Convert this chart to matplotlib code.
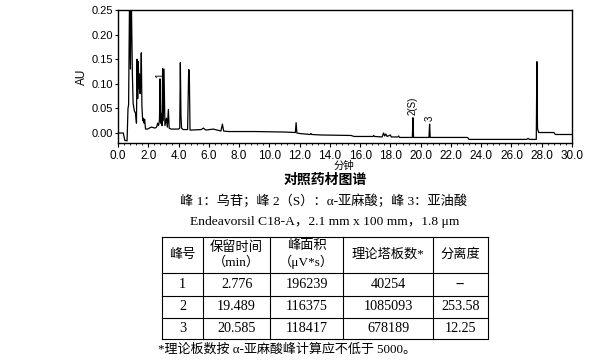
import matplotlib
matplotlib.use("Agg")
import matplotlib.pyplot as plt
from matplotlib.ticker import MultipleLocator, FormatStrFormatter

# chromatogram vertices (min, AU)
rt = [0.0, 0.35, 0.45, 0.6, 0.66, 0.70, 0.77, 0.82, 0.87, 0.95, 1.0, 1.08, 1.16, 1.22,
      1.26, 1.30, 1.34, 1.38, 1.42, 1.46, 1.50, 1.54, 1.58, 1.63, 1.68, 1.72, 1.76, 1.82,
      1.95, 2.2, 2.45, 2.55, 2.62, 2.68, 2.74, 2.776, 2.82, 2.86, 2.91, 2.95, 2.99, 3.04,
      3.10, 3.2, 3.26, 3.33, 3.38, 3.5, 4.0, 4.08, 4.12, 4.16, 4.2, 4.3, 4.6, 4.67, 4.71,
      4.76, 4.85, 5.5, 5.64, 5.8, 6.3, 6.8, 6.9, 6.98, 7.3, 9.0, 11.0, 11.72, 11.77, 11.82,
      12.0, 12.7, 12.75, 12.8, 13.4, 15.4, 15.6, 16.85, 16.9, 16.95, 17.45, 17.55, 17.62,
      17.7, 17.78, 18.0, 18.05, 18.5, 18.55, 18.6, 19.45, 19.49, 19.53, 20.55, 20.59, 20.63,
      23.1, 23.2, 27.0, 27.1, 27.2, 27.64, 27.68, 27.72, 27.8, 28.8, 28.9, 30.0]
au = [0.000, 0.000, -0.015, -0.016, 0.050, 0.057, 0.300, 0.130, 0.300, 0.120, 0.060, 0.045,
      0.040, 0.020, 0.150, 0.070, 0.145, 0.090, 0.120, 0.080, 0.100, 0.163, 0.055, 0.025,
      0.030, 0.020, 0.028, 0.008, 0.008, 0.012, 0.010, 0.012, 0.020, 0.015, 0.026, 0.110,
      0.020, 0.040, 0.015, 0.131, 0.025, 0.130, 0.015, 0.030, 0.012, 0.048, 0.010, 0.008,
      0.008, 0.010, 0.143, 0.036, 0.010, 0.007, 0.007, 0.129, 0.127, 0.006, 0.006, 0.007,
      0.010, 0.006, 0.008, 0.004, 0.018, 0.004, 0.003, 0.003, 0.002, 0.001, 0.021, 0.000,
      -0.001, -0.003, -0.001, -0.003, -0.004, -0.005, -0.007, -0.007, -0.005, -0.007, -0.008,
      0.000, -0.006, -0.002, -0.007, -0.004, -0.008, -0.008, -0.006, -0.009, -0.009, 0.031,
      -0.009, -0.009, 0.018, -0.009, -0.009, -0.013, -0.013, -0.011, -0.013, -0.013, 0.145,
      0.009, 0.001, 0.001, -0.003, -0.003]

peak_labels = ["1", "2(S)", "3"]
peak_rt = [2.776, 19.489, 20.585]
peak_top = [0.112, 0.036, 0.024]

# table
col_heads = ["峰号", "保留时间\n（min）", "峰面积\n（μV*s）", "理论塔板数*", "分离度"]
peak_no = ["1", "2", "3"]
ret_time = ["2.776", "19.489", "20.585"]
area = ["196239", "116375", "118417"]
plates = ["40254", "1085093", "678189"]
resolution = ["--", "253.58", "12.25"]

W, H = 610, 364
fig = plt.figure(figsize=(W / 100, H / 100), dpi=100)

ax = fig.add_axes([118 / W, 1 - 143 / H, (572 - 118) / W, (143 - 10) / H])
ax.plot(rt, au, color="black", lw=0.9)
ax.set_xlim(0, 30)
ax.set_ylim(-0.0203, 0.25)
ax.xaxis.set_major_locator(MultipleLocator(2))
ax.xaxis.set_minor_locator(MultipleLocator(0.4))
ax.yaxis.set_major_locator(MultipleLocator(0.05))
ax.xaxis.set_major_formatter(FormatStrFormatter("%.1f"))
ax.yaxis.set_major_formatter(FormatStrFormatter("%.2f"))
ax.tick_params(axis="x", which="major", length=3, pad=2, labelsize=8.5)
ax.tick_params(axis="x", which="minor", length=1.5)
ax.tick_params(axis="y", length=2.5, pad=1, labelsize=8)
for lab in ax.get_xticklabels() + ax.get_yticklabels():
    lab.set_family("Liberation Sans")
for s in ax.spines.values():
    s.set_linewidth(1.0)
ax.set_ylabel("AU", family="Liberation Sans", fontsize=8.5, labelpad=3)

for lab, t, y in zip(peak_labels, peak_rt, peak_top):
    ax.text(t, y, lab, rotation=90, ha="center", va="bottom",
            family="Liberation Sans", fontsize=7)

# overlay in pixel coordinates for captions and table
ov = fig.add_axes([0, 0, 1, 1], facecolor="none")
ov.set_xlim(0, W)
ov.set_ylim(H, 0)
ov.axis("off")

cjk = ["Noto Sans CJK SC", "DejaVu Sans"]
serif = ["Liberation Serif", "Noto Sans CJK SC"]

ov.text(344, 166, "分钟", ha="center", va="center", family=cjk, fontsize=7.5)
ov.text(325, 180, "对照药材图谱", ha="center", va="center", family=cjk,
        fontsize=10, fontweight="bold")
ov.text(324, 201.5, "峰 1：乌苷；峰 2（S）：α-亚麻酸；峰 3：亚油酸", ha="center",
        va="center", family=serif, fontsize=9.5)
ov.text(325, 221.5, "Endeavorsil C18-A，2.1 mm x 100 mm，1.8 μm", ha="center",
        va="center", family=serif, fontsize=9.7)

xs = [161.7, 203.3, 270, 343.3, 432.7, 487.7]
ys = [236.7, 272.7, 295.7, 318.3, 339.3]
for x in xs:
    ov.plot([x, x], [ys[0], ys[-1]], color="black", lw=0.8)
for y in ys:
    ov.plot([xs[0], xs[-1]], [y, y], color="black", lw=0.8)

cx = [(a + b) / 2 for a, b in zip(xs[:-1], xs[1:])]
cy = [(a + b) / 2 for a, b in zip(ys[:-1], ys[1:])]
for x, head in zip(cx, col_heads):
    ov.text(x, cy[0], head, ha="center", va="center", family=serif, fontsize=9.5,
            linespacing=1.25)
rows = list(zip(peak_no, ret_time, area, plates, resolution))
for y, row in zip(cy[1:], rows):
    for x, val in zip(cx, row):
        ov.text(x, y, val, ha="center", va="center", family=serif, fontsize=10.2)

ov.text(158, 349, "*理论板数按 α-亚麻酸峰计算应不低于 5000。", ha="left", va="center",
        family=serif, fontsize=9.4)

fig.savefig("out.png", dpi=100)
